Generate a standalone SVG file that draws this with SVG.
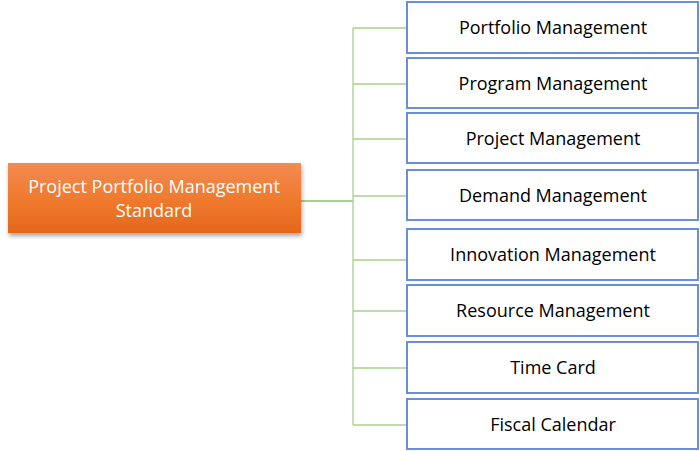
<svg xmlns="http://www.w3.org/2000/svg" width="700" height="451" viewBox="0 0 700 451">
<style>
.box{fill:#ffffff;stroke:#6a8fd8;stroke-width:2}
.lbl{font-family:"Open Sans","Liberation Sans",sans-serif;font-size:18px;fill:#000000;text-anchor:middle}
.root{font-family:"Open Sans","Liberation Sans",sans-serif;font-size:18px;fill:#ffffff;text-anchor:middle}
.conn{stroke:#a9d18e;stroke-width:1.3;fill:none}
</style>
<defs>
<linearGradient id="og" x1="0" y1="0" x2="0" y2="1">
<stop offset="0" stop-color="#f28b54"/>
<stop offset="0.5" stop-color="#f07a2e"/>
<stop offset="1" stop-color="#e4681c"/>
</linearGradient>
<filter id="sh" x="-10%" y="-20%" width="120%" height="150%">
<feDropShadow dx="1" dy="3" stdDeviation="2" flood-color="#000" flood-opacity="0.35"/>
</filter>
</defs>
<g id="connectors">
<line class="conn" x1="301" y1="201" x2="353" y2="201" style="stroke:#8cc26a;stroke-width:1.6"/>
<line class="conn" x1="353" y1="28" x2="353" y2="425"/>
<line class="conn" x1="353" y1="28" x2="407" y2="28"/>
<line class="conn" x1="353" y1="84" x2="407" y2="84"/>
<line class="conn" x1="353" y1="139" x2="407" y2="139"/>
<line class="conn" x1="353" y1="196" x2="407" y2="196"/>
<line class="conn" x1="353" y1="260" x2="407" y2="260"/>
<line class="conn" x1="353" y1="311" x2="407" y2="311"/>
<line class="conn" x1="353" y1="368" x2="407" y2="368"/>
<line class="conn" x1="353" y1="425" x2="407" y2="425"/>
</g>
<g id="root">
<rect x="8" y="163" width="293" height="70" fill="url(#og)" filter="url(#sh)"/>
<text class="root" x="154" y="193">Project Portfolio Management</text>
<text class="root" x="154" y="217">Standard</text>
</g>
<g id="n1"><rect class="box" x="407" y="2" width="291" height="51"/><text class="lbl" x="553" y="34">Portfolio Management</text></g>
<g id="n2"><rect class="box" x="407" y="58" width="291" height="50"/><text class="lbl" x="553" y="90">Program Management</text></g>
<g id="n3"><rect class="box" x="407" y="113" width="291" height="50"/><text class="lbl" x="553" y="145">Project Management</text></g>
<g id="n4"><rect class="box" x="407" y="170" width="291" height="50"/><text class="lbl" x="553" y="202">Demand Management</text></g>
<g id="n5"><rect class="box" x="407" y="229" width="291" height="51"/><text class="lbl" x="553" y="261">Innovation Management</text></g>
<g id="n6"><rect class="box" x="407" y="285" width="291" height="51"/><text class="lbl" x="553" y="317">Resource Management</text></g>
<g id="n7"><rect class="box" x="407" y="342" width="291" height="51"/><text class="lbl" x="553" y="374">Time Card</text></g>
<g id="n8"><rect class="box" x="407" y="399" width="291" height="50"/><text class="lbl" x="553" y="431">Fiscal Calendar</text></g>
</svg>
